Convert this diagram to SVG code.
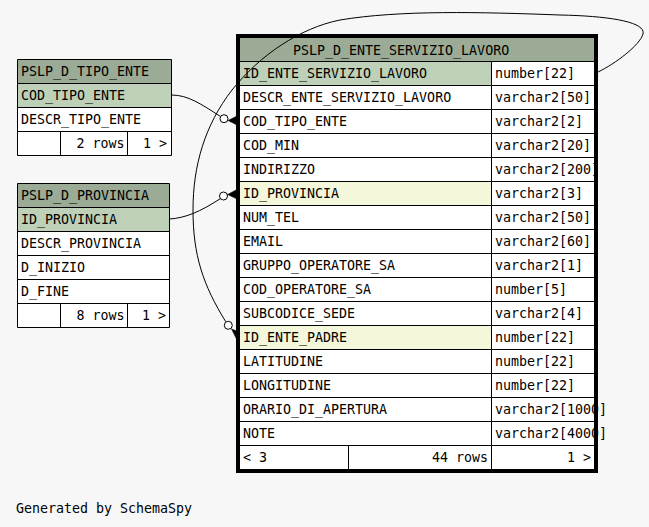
<svg xmlns="http://www.w3.org/2000/svg" width="649" height="527" viewBox="0 0 649 527">
<style>
text{font-family:"DejaVu Sans Mono","Liberation Mono",monospace;font-size:13.3px;fill:#000}
.e{text-anchor:end}
.hd{fill:#9bab96}
.pk{fill:#bed1b8}
.fk{fill:#f4f7da}
.cell{fill:#fff}
.ln{stroke:#000;stroke-width:1;fill:none}
.edge{stroke:#000;stroke-width:1;fill:none}
.dot{stroke:#000;stroke-width:1;fill:#fff}
.crow{fill:#000;stroke:#000;stroke-width:0.5}
</style>
<rect width="649" height="527" fill="#f7f7f7"/>

<g id="PSLP_D_TIPO_ENTE">
<rect class="cell" x="17.5" y="59.5" width="154" height="96"/>
<rect class="hd" x="17.5" y="59.5" width="154" height="24"/>
<rect class="pk" x="17.5" y="83.5" width="154" height="24"/>
<path class="ln" d="M17.5,59.5H171.5V155.5H17.5Z M17.5,83.5H171.5 M17.5,107.5H171.5 M17.5,131.5H171.5 M60.5,131.5V155.5 M127.5,131.5V155.5"/>
<text x="21" y="75.5">PSLP_D_TIPO_ENTE</text>
<text x="21" y="99.5">COD_TIPO_ENTE</text>
<text x="21" y="123.5">DESCR_TIPO_ENTE</text>
<text class="e" x="124.5" y="147.5">2 rows</text>
<text class="e" x="167" y="147.5">1 &gt;</text>
</g>

<g id="PSLP_D_PROVINCIA">
<rect class="cell" x="17.5" y="183.5" width="152" height="144"/>
<rect class="hd" x="17.5" y="183.5" width="152" height="24"/>
<rect class="pk" x="17.5" y="207.5" width="152" height="24"/>
<path class="ln" d="M17.5,183.5H169.5V327.5H17.5Z M17.5,207.5H169.5 M17.5,231.5H169.5 M17.5,255.5H169.5 M17.5,279.5H169.5 M17.5,303.5H169.5 M60.5,303.5V327.5 M127.5,303.5V327.5"/>
<text x="21" y="199.5">PSLP_D_PROVINCIA</text>
<text x="21" y="223.5">ID_PROVINCIA</text>
<text x="21" y="247.5">DESCR_PROVINCIA</text>
<text x="21" y="271.5">D_INIZIO</text>
<text x="21" y="295.5">D_FINE</text>
<text class="e" x="124.5" y="319.5">8 rows</text>
<text class="e" x="166" y="319.5">1 &gt;</text>
</g>

<g id="PSLP_D_ENTE_SERVIZIO_LAVORO">
<rect class="cell" x="240" y="38" width="354" height="431"/>
<rect class="hd" x="240" y="38" width="354" height="23.5"/>
<rect class="pk" x="240" y="61.5" width="251" height="24"/>
<rect class="fk" x="240" y="181.5" width="251" height="24"/>
<rect class="fk" x="240" y="325.5" width="251" height="24"/>
<path class="ln" d="M240,61.5H594 M240,85.5H594 M240,109.5H594 M240,133.5H594 M240,157.5H594 M240,181.5H594 M240,205.5H594 M240,229.5H594 M240,253.5H594 M240,277.5H594 M240,301.5H594 M240,325.5H594 M240,349.5H594 M240,373.5H594 M240,397.5H594 M240,421.5H594 M240,445.5H594 M491.5,61.5V469 M348.5,445.5V469"/>
<text x="293" y="55">PSLP_D_ENTE_SERVIZIO_LAVORO</text>
<text x="243" y="78">ID_ENTE_SERVIZIO_LAVORO</text><text x="495" y="78">number[22]</text>
<text x="243" y="102">DESCR_ENTE_SERVIZIO_LAVORO</text><text x="495" y="102">varchar2[50]</text>
<text x="243" y="126">COD_TIPO_ENTE</text><text x="495" y="126">varchar2[2]</text>
<text x="243" y="150">COD_MIN</text><text x="495" y="150">varchar2[20]</text>
<text x="243" y="174">INDIRIZZO</text><text x="495" y="174">varchar2[200]</text>
<text x="243" y="198">ID_PROVINCIA</text><text x="495" y="198">varchar2[3]</text>
<text x="243" y="222">NUM_TEL</text><text x="495" y="222">varchar2[50]</text>
<text x="243" y="246">EMAIL</text><text x="495" y="246">varchar2[60]</text>
<text x="243" y="270">GRUPPO_OPERATORE_SA</text><text x="495" y="270">varchar2[1]</text>
<text x="243" y="294">COD_OPERATORE_SA</text><text x="495" y="294">number[5]</text>
<text x="243" y="318">SUBCODICE_SEDE</text><text x="495" y="318">varchar2[4]</text>
<text x="243" y="342">ID_ENTE_PADRE</text><text x="495" y="342">number[22]</text>
<text x="243" y="366">LATITUDINE</text><text x="495" y="366">number[22]</text>
<text x="243" y="390">LONGITUDINE</text><text x="495" y="390">number[22]</text>
<text x="243" y="414">ORARIO_DI_APERTURA</text><text x="495" y="414">varchar2[1000]</text>
<text x="243" y="438">NOTE</text><text x="495" y="438">varchar2[4000]</text>
<text x="243" y="462">&lt; 3</text>
<text class="e" x="488" y="462">44 rows</text>
<text class="e" x="591" y="462">1 &gt;</text>
<rect x="238" y="36" width="358" height="435" fill="none" stroke="#000" stroke-width="4"/>
</g>

<g id="connectors">
<path class="edge" d="M171.5,95 C188,95 201,104 220.5,116.5"/>
<circle class="dot" cx="224" cy="118.7" r="4"/>
<polygon class="crow" points="228,120.5 236,116.5 236,124.5"/>
<path class="edge" d="M169.5,219 C185,218 200,212 220.5,198.5"/>
<circle class="dot" cx="223.5" cy="196" r="4"/>
<polygon class="crow" points="227.5,194.5 236,190 236,198.5"/>
<path class="edge" d="M598,72 C615,64 640,45 643,34 C646,22 610,16 560,15 C480,12 400,10 340,20 C300,28 260,55 232,90 C205,125 193,165 193,210 C193,255 203,285 225.8,321.8"/>
<circle class="dot" cx="228.3" cy="325.3" r="4"/>
<polygon class="crow" points="231.5,329 237,331 236.5,339"/>
</g>

<text x="16" y="513">Generated by SchemaSpy</text>
</svg>
